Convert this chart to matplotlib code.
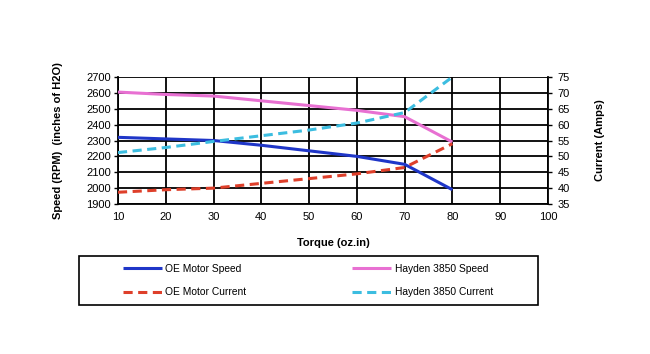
import matplotlib
matplotlib.use("Agg")
import matplotlib.pyplot as plt
from matplotlib.patches import Rectangle

plt.rcParams['font.family'] = ['Liberation Sans', 'DejaVu Sans']

torque = [10, 20, 30, 40, 50, 60, 70, 80]
oe_speed = [2320, 2310, 2300, 2270, 2235, 2200, 2150, 1990]
hayden_speed = [2605, 2590, 2580, 2550, 2520, 2490, 2450, 2290]
oe_current = [38.7, 39.5, 40.0, 41.5, 43.0, 44.5, 46.5, 54.0]
hayden_current = [51.2, 52.8, 54.7, 56.5, 58.3, 60.5, 63.8, 75.0]

x_ticks = [10, 20, 30, 40, 50, 60, 70, 80, 90, 100]
speed_ticks = list(range(1900, 2701, 100))
current_ticks = list(range(35, 76, 5))

c_blue = '#1f36c8'
c_pink = '#e870d2'
c_red = '#de3f2a'
c_cyan = '#3cbde0'

fig = plt.figure(figsize=(6.5, 3.54), dpi=100)
ax = fig.add_axes([0.1815, 0.4237, 0.6615, 0.3588])
ax2 = ax.twinx()

ax.set_xlim(10, 100)
ax.set_ylim(1900, 2700)
ax2.set_ylim(35, 75)
ax.set_xticks(x_ticks)
ax.set_yticks(speed_ticks)
ax2.set_yticks(current_ticks)
ax.grid(True, color='black', linewidth=1.3)
ax.set_axisbelow(True)

for a in (ax, ax2):
    for s in a.spines.values():
        s.set_visible(False)
ax.spines['left'].set_visible(True)
ax.spines['left'].set_linewidth(1.3)
ax2.spines['right'].set_visible(True)
ax2.spines['right'].set_linewidth(1.3)
ax.spines['bottom'].set_visible(True)
ax.spines['bottom'].set_linewidth(1.3)

ax.tick_params(axis='both', labelsize=8, length=3, width=1, pad=2)
ax2.tick_params(axis='y', labelsize=8, length=3, width=1, pad=4)
ax.tick_params(axis='x', length=0, pad=6)

l1, = ax.plot(torque, oe_speed, color=c_blue, lw=2.2, solid_capstyle='butt', zorder=3)
l3, = ax.plot(torque, hayden_speed, color=c_pink, lw=2.2, solid_capstyle='butt', zorder=3)
l2, = ax2.plot(torque, oe_current, color=c_red, lw=2.2, ls=(0, (3, 1.8)), zorder=3)
l4, = ax2.plot(torque, hayden_current, color=c_cyan, lw=2.2, ls=(0, (3, 1.8)), zorder=3)

ax.set_ylabel('Speed (RPM)  (inches of H2O)', fontsize=8, fontweight='bold', labelpad=17)
ax2.set_ylabel('Current (Amps)', fontsize=8, fontweight='bold', labelpad=18)
ax.set_xlabel('Torque (oz.in)', fontsize=8, fontweight='bold', labelpad=11)

# legend frame
box = Rectangle((79 / 650, 1 - 305 / 354), 459 / 650, 49 / 354, transform=fig.transFigure,
                facecolor='white', edgecolor='black', linewidth=1.2)
fig.patches.append(box)

leg = fig.legend([l1, l2, l3, l4],
                 ['OE Motor Speed', 'OE Motor Current', 'Hayden 3850 Speed', 'Hayden 3850 Current'],
                 loc='center', bbox_to_anchor=(308 / 650, 1 - 280.5 / 354),
                 ncol=2, fontsize=7.4, frameon=False, handlelength=3.8,
                 handletextpad=0.3, borderaxespad=0, labelspacing=1.35, borderpad=0,
                 columnspacing=10.3)

fig.savefig('out.png', dpi=100)
